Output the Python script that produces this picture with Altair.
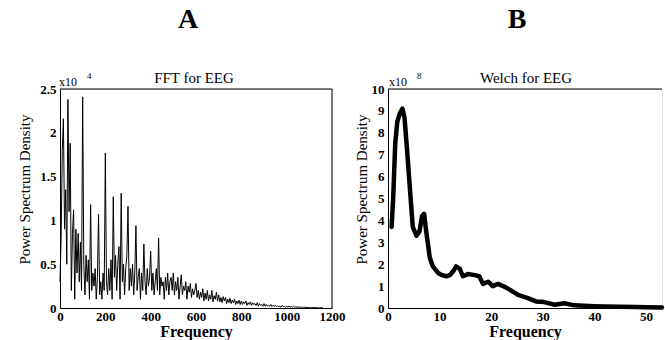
import altair as alt
import pandas as pd

# ---------------- data ----------------
# Panel A: FFT power spectrum (x10^4), sampled every 5 Hz from 0 Hz
fft_values = [
    0.3, 0.8, 1.8, 2.16, 0.9, 1.35, 0.5, 2.38, 1.1, 1.88, 0.2, 0.85, 1.12, 0.1, 0.9, 0.4, 0.85, 0.3, 0.75, 0.2,
    2.41, 0.5, 0.15, 0.6, 0.3, 0.55, 0.1, 1.18, 0.2, 0.4, 0.25, 0.45, 0.1, 0.35, 1.07, 0.15, 0.3, 0.1, 0.4, 0.2,
    1.77, 0.3, 0.15, 0.45, 0.2, 0.55, 0.1, 1.27, 0.35, 0.6, 0.2, 0.5, 0.7, 0.1, 1.31, 0.3, 0.5, 0.15, 0.45, 0.6,
    1.16, 0.2, 0.45, 0.25, 0.5, 0.15, 0.4, 0.94, 0.2, 0.35, 0.45, 0.1, 0.4, 0.2, 0.73, 0.3, 0.15, 0.45, 0.25, 0.35,
    0.65, 0.2, 0.4, 0.15, 0.3, 0.45, 0.2, 0.8, 0.15, 0.35, 0.25, 0.3, 0.1, 0.35, 0.2, 0.4, 0.15, 0.3, 0.35, 0.2,
    0.4, 0.15, 0.3, 0.2, 0.35, 0.1, 0.25, 0.38, 0.15, 0.25, 0.2, 0.3, 0.1, 0.25, 0.18, 0.28, 0.12, 0.22, 0.15, 0.2,
    0.28, 0.12, 0.2, 0.1, 0.18, 0.12, 0.22, 0.08, 0.17, 0.1, 0.2, 0.08, 0.15, 0.1, 0.2, 0.07, 0.14, 0.1, 0.18, 0.08,
    0.15, 0.07, 0.12, 0.06, 0.13, 0.08, 0.12, 0.05, 0.1, 0.06, 0.11, 0.05, 0.09, 0.06, 0.1, 0.04, 0.08, 0.05, 0.09, 0.04,
    0.08, 0.04, 0.07, 0.05, 0.08, 0.03, 0.06, 0.04, 0.07, 0.03, 0.06, 0.04, 0.05, 0.03, 0.06, 0.02, 0.05, 0.03, 0.04, 0.02,
    0.05, 0.02, 0.04, 0.02, 0.03, 0.02, 0.04, 0.015, 0.03, 0.02, 0.03, 0.015, 0.025, 0.015, 0.02, 0.01, 0.03, 0.015, 0.02, 0.01,
    0.02, 0.01, 0.02, 0.01, 0.015, 0.01, 0.02, 0.008, 0.015, 0.01, 0.012, 0.008, 0.01, 0.006, 0.012, 0.006, 0.01, 0.005, 0.008, 0.005,
    0.008, 0.004, 0.006, 0.004, 0.006, 0.003, 0.005, 0.003, 0.004, 0.003, 0.004, 0.002, 0.003,
]
fft_step = 5
fft_freq = [i * fft_step for i in range(len(fft_values))]

# Panel B: Welch power spectrum (x10^8)
welch_freq = [0.7, 1.0, 1.4, 1.8, 2.3, 2.8, 3.2, 3.7, 4.2, 4.8, 5.5, 6.1, 6.6, 7.0, 7.4, 8.1, 8.7,
              9.7, 10.5, 11.3, 12.0, 12.7, 13.2, 13.9, 14.5, 15.5, 16.8, 17.7, 18.4, 19.4, 20.3,
              21.3, 22.3, 23.5, 25.2, 27.1, 28.7, 30.3, 32.3, 34.2, 36.1, 38.0, 40.0, 42.0, 45.0,
              48.0, 50.0, 53.1]
welch_power = [3.7, 5.0, 7.5, 8.5, 8.9, 9.1, 8.7, 7.2, 5.6, 3.7, 3.3, 3.5, 4.2, 4.3, 3.5, 2.3, 1.9,
               1.6, 1.5, 1.45, 1.5, 1.7, 1.9, 1.8, 1.45, 1.55, 1.5, 1.45, 1.1, 1.2, 1.0,
               1.1, 1.0, 0.85, 0.6, 0.45, 0.3, 0.27, 0.15, 0.22, 0.12, 0.1, 0.08, 0.07, 0.06,
               0.04, 0.03, 0.02]

fft_xticks = [0, 200, 400, 600, 800, 1000, 1200]
fft_yticks = [0, 0.5, 1, 1.5, 2, 2.5]
welch_xticks = [0, 10, 20, 30, 40, 50]
welch_yticks = list(range(0, 11))

FONT = "Liberation Serif, Times New Roman, serif"
WA, HA = 272, 219
WB, HB = 274, 219

df_a = pd.DataFrame({"f": fft_freq, "p": fft_values})
df_b = pd.DataFrame({"f": welch_freq, "p": welch_power})
one = pd.DataFrame({"k": [0]})


def xaxis(vals):
    return alt.Axis(values=vals, format="~r", title="Frequency", titleFont=FONT, titleFontSize=16,
                    titleFontWeight="bold", titleColor="black", labelFont=FONT,
                    labelFontSize=13, labelFontWeight="bold", labelColor="black",
                    ticks=False, grid=False, domainColor="black", domainWidth=1,
                    labelPadding=2, titlePadding=0, labelFlush=False, labelOverlap=False)


def yaxis(vals, pad):
    return alt.Axis(values=vals, format="~r", title="Power Spectrum Density", titleFont=FONT,
                    titleFontSize=15, titleFontWeight="normal", titleColor="black", titleY=100,
                    labelFont=FONT, labelFontSize=13, labelFontWeight="bold", labelColor="black",
                    ticks=False, grid=False, domainColor="black", domainWidth=1,
                    labelPadding=4, titlePadding=pad, labelOverlap=False)


def txt(text, x, y, size, weight="normal", align="left"):
    return alt.Chart(one).mark_text(text=text, font=FONT, fontSize=size, fontWeight=weight,
                                    align=align, baseline="alphabetic").encode(
        x=alt.value(x), y=alt.value(y), color=alt.value("black"))


def rule(x, x2, y, y2):
    return alt.Chart(one).mark_rule(strokeWidth=1).encode(
        x=alt.value(x), x2=alt.value(x2), y=alt.value(y), y2=alt.value(y2),
        color=alt.value("black"))


line_a = alt.Chart(df_a).mark_line(color="black", strokeWidth=1).encode(
    x=alt.X("f:Q", scale=alt.Scale(domain=[0, 1200], nice=False), axis=xaxis(fft_xticks)),
    y=alt.Y("p:Q", scale=alt.Scale(domain=[0, 2.5], nice=False), axis=yaxis(fft_yticks, 7)),
)
panel_a = alt.layer(
    line_a,
    rule(0, WA, 0, 0),
    rule(WA, WA, 0, HA),
    txt("x10", -1, -3, 12),
    txt("4", 27, -10, 9),
    txt("FFT for EEG", 134, -6, 15, "normal", "center"),
    txt("A", 128, -61, 28, "bold", "center"),
).properties(width=WA, height=HA)

line_b = alt.Chart(df_b).mark_line(color="black", strokeWidth=4.5, strokeJoin="round",
                                   strokeCap="round").encode(
    x=alt.X("f:Q", scale=alt.Scale(domain=[0, 53.1], nice=False), axis=xaxis(welch_xticks)),
    y=alt.Y("p:Q", scale=alt.Scale(domain=[0, 10], nice=False), axis=yaxis(welch_yticks, 2)),
)
panel_b = alt.layer(
    line_b,
    rule(0, WB, 0, 0),
    txt("x10", 1, -3, 12),
    txt("8", 29, -10, 9),
    txt("Welch for EEG", 138, -6, 15, "normal", "center"),
    txt("B", 129, -61, 28, "bold", "center"),
).properties(width=WB, height=HB)

chart = alt.hconcat(panel_a, panel_b, spacing=56, bounds="flush").properties(
    padding={"left": 17, "top": 5, "right": 0, "bottom": 0}
).configure_view(strokeWidth=0).configure(background="white")

chart.save("out.html", embed_options={"renderer": "svg", "actions": False})
